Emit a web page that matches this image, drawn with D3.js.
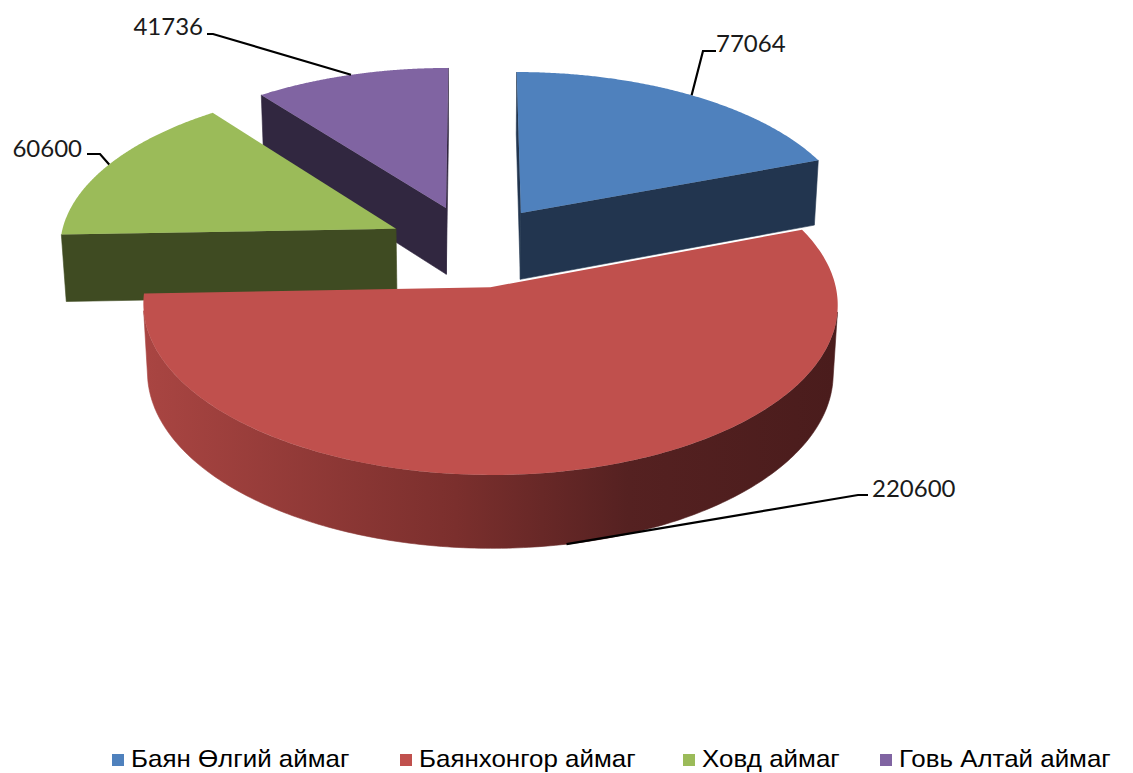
<!DOCTYPE html>
<html>
<head>
<meta charset="utf-8">
<script src="https://cdn.jsdelivr.net/npm/d3@7"></script>
<style>
  body { margin: 0; background: #fff; }
  svg { display: block; }
</style>
</head>
<body>
<svg id="viz" width="1133" height="773"></svg>
<script>
// data
const regions = ["Баян Өлгий аймаг", "Баянхонгор аймаг", "Ховд аймаг", "Говь Алтай аймаг"];
const values = [77064, 220600, 60600, 41736];
const valueLabels = ["77064", "220600", "60600", "41736"];

// palette (top / side)
const topColors = ["#4f81bd", "#c0504d", "#9bbb59", "#8064a2"];
const sideColors = ["#22354f", "#7a2e2c", "#3f4b22", "#312740"];

const svg = d3.select("#viz");

// 3d view settings
const phi = 28.5 * Math.PI / 180; // elevation
const sinP = Math.sin(phi), cosP = Math.cos(phi);
const D = 9;          // camera distance (in pie radii)
const S = 337;        // screen scale
const cx = 473, cy = 246;
const H = 0.23;       // thickness
const explode = 0.255;

function proj(x, d, h) {
  const Y = d * sinP + h * cosP;
  const Zc = D + d * cosP - h * sinP;
  const k = D / Zc;
  return [cx + S * x * k, cy - S * Y * k];
}
const cam = [0, -D * cosP, D * sinP];

const pie = d3.pie().sort(null).startAngle(0).endAngle(2 * Math.PI);
const arcs = pie(values).map((a, i) => {
  const mid = (a.startAngle + a.endAngle) / 2;
  return Object.assign(a, {
    i,
    mid,
    ox: explode * Math.sin(mid),
    od: explode * Math.cos(mid)
  });
});

function pt(a, r, t, h) {
  return proj(a.ox + r * Math.sin(t), a.od + r * Math.cos(t), h);
}
function facing(p, n) {
  return (cam[0] - p[0]) * n[0] + (cam[1] - p[1]) * n[1] + (cam[2] - p[2]) * n[2] > 0;
}

const line = d3.line();
const defs = svg.append("defs");
const grad = defs.append("linearGradient")
  .attr("id", "redSide")
  .attr("gradientUnits", "userSpaceOnUse")
  .attr("x1", 145).attr("x2", 835).attr("y1", 0).attr("y2", 0);
[[0, "#a94542"], [0.45, "#7b2f2d"], [0.7, "#552121"], [1, "#4a1c1c"]].forEach(s =>
  grad.append("stop").attr("offset", s[0]).attr("stop-color", s[1]));

// painter order: far slices first
const order = arcs.slice().sort((a, b) => b.od - a.od);
const g = svg.append("g");

order.forEach(a => {
  const sg = g.append("g");
  const side = a.i === 1 ? "url(#redSide)" : sideColors[a.i];
  // radial walls
  [[a.startAngle, a.startAngle - Math.PI / 2], [a.endAngle, a.endAngle + Math.PI / 2]].forEach(([t, nt]) => {
    const mx = a.ox + 0.5 * Math.sin(t), md = a.od + 0.5 * Math.cos(t);
    if (!facing([mx, md, -H / 2], [Math.sin(nt), Math.cos(nt), 0])) return;
    const poly = [pt(a, 0, t, 0), pt(a, 1, t, 0), pt(a, 1, t, -H), pt(a, 0, t, -H)];
    sg.append("path").attr("d", line(poly) + "Z")
      .attr("fill", sideColors[a.i]).attr("stroke", sideColors[a.i]).attr("stroke-width", 0.6);
  });
  // outer wall
  const n = 240;
  let run = [];
  const runs = [];
  for (let k = 0; k <= n; k++) {
    const t = a.startAngle + (a.endAngle - a.startAngle) * k / n;
    const p = [a.ox + Math.sin(t), a.od + Math.cos(t), -H / 2];
    if (facing(p, [Math.sin(t), Math.cos(t), 0])) run.push(t);
    else if (run.length) { runs.push(run); run = []; }
  }
  if (run.length) runs.push(run);
  runs.forEach(r => {
    if (r.length < 2) return;
    const topEdge = r.map(t => pt(a, 1, t, 0));
    const botEdge = r.slice().reverse().map(t => pt(a, 1, t, -H));
    sg.append("path").attr("d", line(topEdge.concat(botEdge)) + "Z")
      .attr("fill", side).attr("stroke", side).attr("stroke-width", 0.6);
  });
  // top face
  const m = 200;
  const topPoly = [pt(a, 0, 0, 0)];
  for (let k = 0; k <= m; k++) {
    const t = a.startAngle + (a.endAngle - a.startAngle) * k / m;
    topPoly.push(pt(a, 1, t, 0));
  }
  sg.append("path").attr("d", line(topPoly) + "Z").attr("fill", topColors[a.i]);
});

// data labels with leader lines
const labelFont = "Lato, 'Open Sans', sans-serif";
const labelLayout = [
  { elbow: [703, 51], end: [716, 51], tx: 716, ty: 52, anchor: "start", h: 0 },
  { elbow: [858, 495], end: [868, 495], tx: 872, ty: 497, anchor: "start", h: -H },
  { elbow: [100, 154], end: [87, 154], tx: 82, ty: 157, anchor: "end", h: 0 },
  { elbow: [213, 34], end: [207, 34], tx: 203, ty: 35, anchor: "end", h: 0 }
];
arcs.forEach(a => {
  const L = labelLayout[a.i];
  const p = pt(a, 1, a.mid, L.h);
  svg.append("path")
    .attr("d", line([p, L.elbow, L.end]))
    .attr("fill", "none").attr("stroke", "#000").attr("stroke-width", 2.2);
  svg.append("text")
    .attr("x", L.tx).attr("y", L.ty)
    .attr("text-anchor", L.anchor)
    .attr("font-family", labelFont).attr("font-size", 24)
    .attr("fill", "#1a1a1a")
    .text(valueLabels[a.i]);
});

// legend
const legendX = [112, 400, 683, 880];
const legend = svg.append("g").attr("transform", "translate(0,767)");
regions.forEach((name, i) => {
  const it = legend.append("g").attr("transform", `translate(${legendX[i]},0)`);
  it.append("rect").attr("x", 0).attr("y", -13).attr("width", 12).attr("height", 12).attr("fill", topColors[i]);
  it.append("text")
    .attr("transform", "translate(19,0) scale(1.08,1)")
    .attr("font-family", "'Liberation Sans', Arial, sans-serif").attr("font-size", 24)
    .attr("fill", "#000").text(name);
});
</script>
</body>
</html>
